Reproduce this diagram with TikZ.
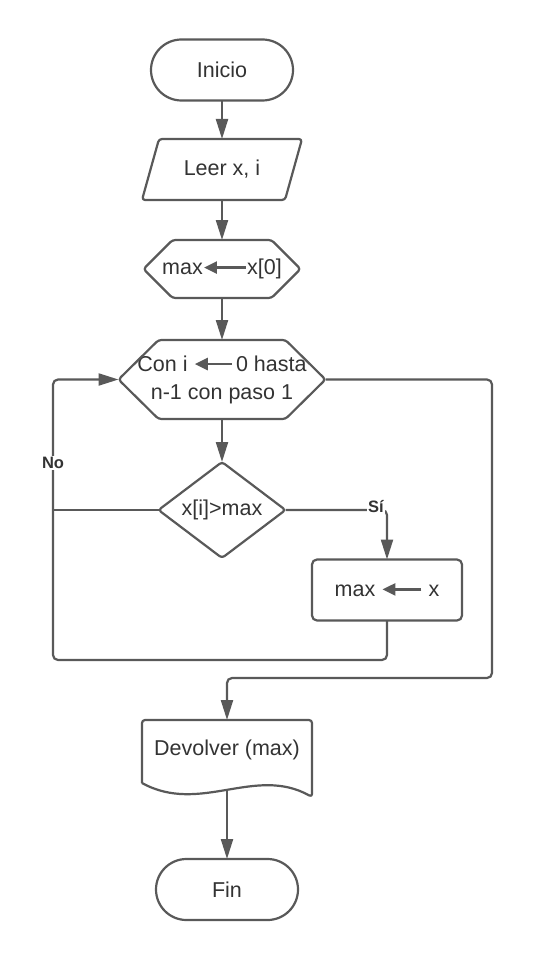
\documentclass[tikz,border=0pt]{standalone}
\usepackage{fontspec}
\setmainfont{Liberation Sans}
\usetikzlibrary{arrows.meta}
\definecolor{linec}{HTML}{595959}
\definecolor{textc}{HTML}{333333}
\newcommand\inarr[1]{\tikz[baseline=-7pt]\draw[line width=2.4pt,draw=linec,-{Triangle[length=13pt,width=12pt]}] (#1,0pt)--(0pt,0pt);}
\begin{document}
\begin{tikzpicture}[x=1pt,y=-1pt,
  outl/.style={draw=linec,line width=2.2pt,line join=round,rounded corners=3pt},
  lbl/.style={inner sep=0pt,outer sep=0pt,text=textc,font=\fontsize{21.5}{28}\selectfont,align=center},
  term/.style={lbl,draw=linec,line width=2.2pt,rounded corners=30.5pt,minimum width=142pt,minimum height=61pt},
  conn/.style={draw=linec,line width=2.2pt,rounded corners=5pt,-{Triangle[length=20pt,width=12pt]}},
  plain/.style={draw=linec,line width=2.2pt,rounded corners=5pt},
  yn/.style={font=\bfseries\fontsize{16.5}{18}\selectfont,text=textc,fill=white,inner sep=1pt}]
\useasboundingbox[fill=white] (0,0) rectangle (533,960);

% shapes
\node[term] (ini) at (222,70) {Inicio};

\node[lbl,minimum width=160pt,minimum height=61pt] (leer) at (222,169.5) {Leer x, i};
\draw[outl] (159,139) -- (302,139) -- (285,200) -- (142,200) -- cycle;

\node[lbl,minimum width=157pt,minimum height=58pt] (mi) at (222,269) {max\inarr{42pt}x[0]};
\draw[outl] (143.5,269) -- (172.5,240) -- (271.5,240) -- (300.5,269) -- (271.5,298) -- (172.5,298) -- cycle;

\node[lbl,minimum width=207pt,minimum height=79pt] (lp) at (222,379.5) {Con i \inarr{37pt}\hspace{3pt}0 hasta\\n-1 con paso 1};
\draw[outl] (118.5,379.5) -- (158.5,340) -- (285.5,340) -- (325.5,379.5) -- (285.5,419) -- (158.5,419) -- cycle;

\node[lbl,minimum width=127pt,minimum height=96pt] (cd) at (222,510) {x[i]>max};
\draw[outl] (158.5,510) -- (222,462) -- (285.5,510) -- (222,558) -- cycle;

\node[lbl,draw=linec,line width=2.2pt,rounded corners=5pt,minimum width=150pt,minimum height=61pt] (up) at (387,590) {max \inarr{39pt} x};

\node[lbl,minimum width=170pt,minimum height=60pt] (dc) at (227,750) {Devolver (max)};
\draw[outl] (142,783) -- (142,720) -- (312,720) -- (312,797) .. controls (255,765) and (200,815) .. (142,783);
\coordinate (db) at (227,790);

\node[term] (fn) at (227,889.5) {Fin};

% connector points
\coordinate (nj) at (53,510);
\coordinate (nt) at (53,379.5);
\coordinate (nb) at (53,660);
\coordinate (sb) at (387,660);
\coordinate (sc) at (387,510);
\coordinate (r1) at (492,379.5);
\coordinate (r2) at (492,678);
\coordinate (r3) at (227,678);

% connectors
\draw[conn] (ini.south) -- (leer.north);
\draw[conn] (leer.south) -- (mi.north);
\draw[conn] (mi.south) -- (lp.north);
\draw[conn] (lp.south) -- (cd.north);
\draw[plain] (cd.west) -- (nj);
\draw[conn] (up.south) -- (sb) -- (nb) -- (nt) -- (lp.west);
\draw[conn] (cd.east) -- (sc) -- (up.north);
\draw[conn] (lp.east) -- (r1) -- (r2) -- (r3) -- (dc.north);
\draw[conn] (db) -- (fn.north);

\node[yn] (no) at (53,463) {No};
\node[yn] (si) at (376,507) {Sí};
\end{tikzpicture}
\end{document}
